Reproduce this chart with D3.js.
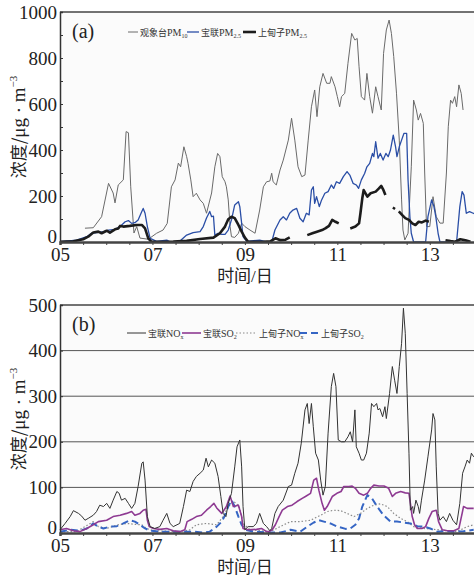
<!DOCTYPE html>
<html>
<head>
<meta charset="utf-8">
<script src="https://cdn.jsdelivr.net/npm/d3@7"></script>
<style>
  body { margin: 0; background: #fff; }
  svg text { font-family: "Liberation Serif", "Noto Sans CJK SC", serif; }
</style>
</head>
<body>
<div id="chart"></div>
<script>
// days (5 = 05日) and concentrations; null = gap
const xTickDays = [5, 7, 9, 11, 13];
const xTickLabels = ["05", "07", "09", "11", "13"];
const yTicksA = [0, 200, 400, 600, 800, 1000];
const yTicksB = [0, 100, 200, 300, 400, 500];

// (a) 观象台PM10
const pm10Gxt = [[5.54,60],[5.72,62],[5.90,110],[6.05,255],[6.15,213],[6.19,170],[6.26,248],[6.37,270],[6.43,480],[6.48,475],[6.53,240],[6.60,39],[6.66,67],[6.73,17],[6.91,12],[7.09,38],[7.23,52],[7.32,81],[7.41,240],[7.49,270],[7.56,343],[7.61,327],[7.68,414],[7.74,371],[7.77,342],[7.83,270],[7.88,197],[7.95,212],[8.03,183],[8.10,168],[8.17,125],[8.28,213],[8.35,327],[8.41,385],[8.46,371],[8.51,284],[8.57,262],[8.60,240],[8.64,183],[8.68,67],[8.71,23],[8.78,20],[8.86,38],[8.93,82],[9.00,67],[9.11,52],[9.22,38],[9.32,139],[9.40,240],[9.47,262],[9.54,265],[9.58,299],[9.61,262],[9.68,248],[9.76,313],[9.83,356],[9.94,443],[10.01,538],[10.08,443],[10.15,327],[10.23,284],[10.30,291],[10.37,443],[10.44,588],[10.51,661],[10.56,545],[10.62,675],[10.69,733],[10.77,690],[10.84,690],[10.87,719],[10.95,675],[11.00,632],[11.05,588],[11.09,632],[11.16,646],[11.23,777],[11.31,907],[11.38,878],[11.43,885],[11.47,762],[11.52,632],[11.59,617],[11.64,733],[11.70,632],[11.76,560],[11.83,675],[11.88,632],[11.95,574],[12.00,820],[12.06,922],[12.12,965],[12.17,907],[12.22,806],[12.28,647],[12.34,443],[12.39,183],[12.42,52],[12.46,9],[12.53,38],[12.60,327],[12.65,617],[12.71,574],[12.75,530],[12.80,559],[12.86,516],[12.89,300],[12.93,67],[13.00,67],[13.07,197],[13.14,110],[13.22,82],[13.29,82],[13.36,300],[13.40,501],[13.45,617],[13.49,603],[13.54,632],[13.58,588],[13.63,683],[13.68,646],[13.72,574]];

// (a) 宝联PM2.5
const pm25Bl = [[5.00,1],[5.36,8],[5.58,23],[5.68,38],[5.79,41],[5.94,45],[6.05,52],[6.19,55],[6.30,67],[6.41,88],[6.48,93],[6.55,81],[6.62,84],[6.69,96],[6.77,133],[6.80,146],[6.84,125],[6.89,67],[6.95,16],[7.09,3],[7.31,8],[7.38,1],[7.59,3],[7.74,30],[7.88,41],[8.03,45],[8.10,67],[8.17,104],[8.24,133],[8.28,110],[8.32,112],[8.35,30],[8.42,38],[8.50,33],[8.57,33],[8.64,52],[8.71,96],[8.78,161],[8.86,175],[8.89,154],[8.93,81],[8.96,23],[9.04,3],[9.32,8],[9.47,0],[9.58,0],[9.65,52],[9.76,96],[9.83,110],[9.90,96],[9.97,125],[10.04,139],[10.12,146],[10.19,103],[10.26,88],[10.33,125],[10.39,118],[10.44,226],[10.48,240],[10.51,168],[10.55,197],[10.61,154],[10.66,183],[10.73,212],[10.80,219],[10.87,248],[10.92,233],[10.98,262],[11.05,255],[11.13,284],[11.21,306],[11.27,291],[11.34,255],[11.41,248],[11.46,233],[11.52,270],[11.59,298],[11.64,327],[11.70,342],[11.76,385],[11.79,371],[11.83,436],[11.88,364],[11.93,385],[11.99,356],[12.05,385],[12.10,371],[12.15,400],[12.21,465],[12.26,414],[12.29,371],[12.34,414],[12.39,443],[12.44,472],[12.50,472],[12.53,270],[12.57,110],[12.60,38],[12.65,0],[12.91,0],[12.96,110],[13.04,183],[13.09,154],[13.13,110],[13.18,38],[13.22,0],[13.58,0],[13.65,154],[13.70,219],[13.74,204],[13.79,125],[13.86,132],[13.94,125],[14.00,120]];

// (a) 上甸子PM2.5
const pm25Sdz = [[5.00,1],[5.29,3],[5.50,12],[5.61,23],[5.72,41],[5.83,45],[5.90,38],[6.01,49],[6.08,41],[6.19,55],[6.26,59],[6.30,70],[6.37,67],[6.51,70],[6.66,74],[6.77,74],[6.84,59],[6.91,16],[6.98,1],[7.45,2],[7.74,5],[8.03,13],[8.32,19],[8.46,38],[8.57,67],[8.64,99],[8.71,110],[8.78,104],[8.86,74],[8.93,45],[9.00,19],[9.07,1],[9.40,1],[9.55,3],[9.66,16],[9.77,8],[9.88,10],[9.97,20],null,[10.35,30],[10.46,38],[10.56,45],[10.67,52],[10.74,59],[10.82,70],[10.89,96],[10.96,88],[11.03,81],null,[11.28,59],[11.39,67],[11.47,81],[11.50,125],[11.54,190],[11.57,226],[11.65,197],[11.72,212],[11.83,219],[11.90,233],[11.95,244],[11.99,229],[12.04,204],null,[12.21,142],[12.24,151],null,[12.33,133],[12.40,118],[12.47,104],[12.55,96],[12.62,81],[12.69,74],[12.76,88],[12.83,85],[12.91,93],[12.98,88],null,[13.34,8],[13.45,4],[13.55,1],[13.66,12],[13.77,8],[13.88,1]];

// (b) 宝联NOx
const noxBl = [[5.00,7],[5.11,21],[5.22,36],[5.29,49],[5.40,43],[5.47,37],[5.54,28],[5.61,32],[5.72,39],[5.79,47],[5.86,61],[5.94,58],[6.01,65],[6.08,54],[6.15,72],[6.23,91],[6.28,87],[6.33,72],[6.41,76],[6.48,65],[6.55,54],[6.62,65],[6.69,102],[6.77,153],[6.80,156],[6.84,116],[6.89,36],[6.95,14],[7.05,10],[7.16,14],[7.23,28],[7.31,43],[7.38,21],[7.45,14],[7.59,21],[7.67,58],[7.74,94],[7.81,91],[7.88,113],[7.95,124],[8.03,131],[8.10,138],[8.16,164],[8.21,145],[8.28,160],[8.35,153],[8.42,124],[8.48,80],[8.53,43],[8.59,36],[8.64,65],[8.71,87],[8.78,145],[8.83,189],[8.89,204],[8.93,145],[8.96,58],[9.00,7],[9.07,14],[9.18,14],[9.25,21],[9.32,43],[9.40,21],[9.47,14],[9.54,5],[9.58,10],[9.65,43],[9.72,58],[9.83,72],[9.94,102],[10.01,105],[10.08,131],[10.15,153],[10.22,197],[10.30,270],[10.35,284],[10.39,240],[10.44,284],[10.48,233],[10.53,175],[10.59,160],[10.64,116],[10.69,83],[10.74,102],[10.80,219],[10.87,321],[10.92,350],[10.97,321],[11.02,204],[11.09,200],[11.16,200],[11.23,211],[11.28,222],[11.33,200],[11.38,270],[11.41,189],[11.47,175],[11.52,160],[11.57,160],[11.63,175],[11.69,219],[11.74,284],[11.79,277],[11.85,284],[11.88,270],[11.92,273],[11.98,255],[12.03,277],[12.06,251],[12.13,306],[12.19,365],[12.24,335],[12.29,306],[12.34,365],[12.39,416],[12.43,493],[12.47,438],[12.51,306],[12.55,175],[12.58,50],[12.63,58],[12.65,43],[12.70,72],[12.75,58],[12.78,43],[12.82,72],[12.89,116],[12.96,167],[13.04,226],[13.07,262],[13.11,248],[13.14,145],[13.18,43],[13.22,28],[13.29,36],[13.36,25],[13.43,43],[13.50,28],[13.58,18],[13.65,65],[13.71,131],[13.76,145],[13.81,160],[13.86,153],[13.90,175],[13.95,167]];

// (b) 宝联SO2
const so2Bl = [[5.00,7],[5.14,10],[5.29,5],[5.43,3],[5.58,10],[5.72,18],[5.83,25],[6.01,28],[6.15,36],[6.30,39],[6.44,43],[6.55,47],[6.62,39],[6.73,43],[6.80,50],[6.86,52],[6.89,28],[6.93,14],[7.02,10],[7.16,8],[7.31,10],[7.45,5],[7.59,3],[7.70,7],[7.75,25],[7.85,30],[7.95,36],[8.06,39],[8.17,50],[8.26,58],[8.33,65],[8.39,55],[8.50,43],[8.60,58],[8.68,81],[8.75,58],[8.86,61],[8.93,36],[8.96,10],[9.07,7],[9.25,8],[9.36,10],[9.47,3],[9.52,3],[9.59,7],[9.66,18],[9.74,36],[9.81,50],[9.92,58],[10.02,61],[10.13,69],[10.24,76],[10.31,80],[10.42,87],[10.49,116],[10.55,120],[10.60,94],[10.67,65],[10.72,50],[10.78,58],[10.89,80],[10.99,87],[11.08,91],[11.14,102],[11.25,102],[11.32,103],[11.39,98],[11.47,87],[11.57,83],[11.65,87],[11.72,98],[11.79,105],[11.90,103],[12.01,103],[12.11,98],[12.19,80],[12.26,87],[12.37,91],[12.47,88],[12.55,87],[12.58,65],[12.62,36],[12.67,18],[12.73,10],[12.83,10],[12.91,14],[12.98,32],[13.05,47],[13.14,50],[13.19,25],[13.27,7],[13.38,5],[13.52,5],[13.63,10],[13.70,43],[13.73,58],[13.81,54],[13.95,54]];

// (b) 上甸子NOx
const noxSdz = [[5.00,3],[5.36,3],[5.72,25],[5.83,14],[6.01,10],[6.26,18],[6.44,21],[6.62,19],[6.77,18],[6.87,10],[7.02,5],[7.59,3],[7.81,7],[7.95,18],[8.17,21],[8.39,18],[8.53,36],[8.64,58],[8.75,69],[8.82,65],[8.89,54],[8.96,21],[9.11,7],[9.54,3],[9.63,7],[9.84,18],[9.99,25],[10.20,25],[10.42,28],[10.64,39],[10.78,47],[10.92,50],[11.07,49],[11.21,43],[11.36,36],[11.50,43],[11.65,54],[11.79,61],[11.93,64],[12.08,58],[12.22,43],[12.37,32],[12.51,25],[12.65,14],[12.87,10],[13.09,8],[13.38,5],[13.59,3],[13.81,14],[13.95,18]];

// (b) 上甸子SO2
const so2Sdz = [[5.00,3],[5.22,7],[5.43,5],[5.58,10],[5.72,21],[5.83,14],[5.94,10],[6.08,14],[6.23,15],[6.37,21],[6.51,28],[6.62,25],[6.73,18],[6.84,10],[6.95,5],[7.16,3],[7.59,3],[7.88,3],[8.10,1],[8.24,3],[8.39,14],[8.50,25],[8.57,39],[8.64,58],[8.71,72],[8.78,58],[8.86,36],[8.93,18],[9.00,7],[9.18,3],[9.54,1],[9.77,1],[9.99,7],[10.20,3],[10.35,14],[10.49,23],[10.60,28],[10.71,25],[10.85,21],[11.00,14],[11.18,9],[11.28,10],[11.39,18],[11.47,32],[11.54,58],[11.65,83],[11.75,76],[11.86,58],[12.00,39],[12.15,25],[12.29,25],[12.44,23],[12.58,21],[12.73,15],[12.87,14],[13.01,10],[13.16,3],[13.30,4],[13.52,3],[13.73,4],[13.95,7]];

const W = 474, H = 579;
const svg = d3.select("#chart").append("svg").attr("width", W).attr("height", H);

const x = d3.scaleLinear().domain([5, 14]).range([60, 476]);
const halfDays = d3.range(5, 14.01, 0.5);

function panel(o) {
  const y = d3.scaleLinear().domain([0, o.ymax]).range([o.bottom, o.top]);
  const g = svg.append("g");

  g.append("rect").attr("x", 60).attr("y", o.top).attr("width", W - 60).attr("height", o.bottom - o.top)
    .attr("fill", "#fbfbfb");

  // gridlines (panel b only)
  if (o.grid) {
    g.selectAll(".grid").data(o.yTicks.slice(1, -1)).join("line")
      .attr("x1", 60).attr("x2", W).attr("y1", d => y(d)).attr("y2", d => y(d))
      .attr("stroke", "#555").attr("stroke-width", 1);
  }
  // top frame
  g.append("line").attr("x1", 60).attr("x2", W).attr("y1", o.top).attr("y2", o.top)
    .attr("stroke", "#444").attr("stroke-width", 1.5);

  // series
  const line = d3.line().defined(d => d !== null).x(d => x(d[0])).y(d => y(d[1]));
  o.series.forEach(s => {
    g.append("path").datum(s.data).attr("d", line).attr("fill", "none")
      .attr("stroke", s.color).attr("stroke-width", s.width)
      .attr("stroke-dasharray", s.dash || null).attr("stroke-linejoin", "round");
  });

  // y axis
  const ya = g.append("g").attr("transform", "translate(60,0)")
    .call(d3.axisLeft(y).tickValues(d3.range(0, o.ymax + 1, o.minor)).tickSize(-3).tickFormat(""));
  ya.select(".domain").attr("stroke", "#333").attr("stroke-width", 1.5);
  ya.selectAll(".tick line").attr("stroke", "#333");
  g.selectAll(".ylab").data(o.yTicks).join("text")
    .attr("x", 57).attr("y", d => y(d) + (d === 0 ? -6 : 0))
    .attr("dy", "0.35em").attr("text-anchor", "end")
    .attr("font-size", 19).attr("fill", "#222").text(d => d);

  // x axis
  const xa = g.append("g").attr("transform", `translate(0,${o.bottom})`)
    .call(d3.axisBottom(x).tickValues(halfDays).tickSize(3).tickPadding(3)
      .tickFormat(d => { const i = xTickDays.indexOf(d); return i >= 0 ? xTickLabels[i] : ""; }));
  xa.select(".domain").attr("stroke", "#444").attr("stroke-width", 2.5);
  xa.selectAll(".tick line").attr("stroke", "#444");
  xa.selectAll("text").attr("font-size", 19).attr("fill", "#222")
    .attr("font-family", "Liberation Serif");

  g.append("text").attr("x", 245).attr("y", o.bottom + 40).attr("text-anchor", "middle")
    .attr("font-family", "Noto Sans CJK SC").attr("font-size", 17).attr("fill", "#222")
    .text("时间/日");

  // y title
  const cy = (o.top + o.bottom) / 2;
  const yt = g.append("text").attr("transform", `translate(25,${cy}) rotate(-90)`)
    .attr("text-anchor", "middle").attr("font-size", 17).attr("fill", "#222");
  yt.append("tspan").attr("font-family", "Noto Sans CJK SC").text("浓度/");
  yt.append("tspan").attr("font-family", "Liberation Serif").attr("font-size", 19).text("μg · m");
  yt.append("tspan").attr("font-family", "Liberation Serif").attr("font-size", 11).attr("dy", -8).text("−3");

  // panel tag
  g.append("text").attr("x", 72).attr("y", o.top + 26).attr("font-size", 20).attr("fill", "#222").text(o.tag);

  // legend
  o.legend.forEach(l => {
    g.append("line").attr("x1", l.x0).attr("x2", l.x1).attr("y1", o.legY).attr("y2", o.legY)
      .attr("stroke", l.color).attr("stroke-width", l.width).attr("stroke-dasharray", l.dash || null);
    const t = g.append("text").attr("x", l.x1 + 2).attr("y", o.legY + 3.5)
      .attr("font-size", 9).attr("fill", "#333");
    t.append("tspan").attr("font-family", "Noto Sans CJK SC").text(l.name);
    t.append("tspan").attr("font-family", "Liberation Serif").attr("font-size", 10).text(l.chem);
    t.append("tspan").attr("font-family", "Liberation Serif").attr("font-size", 6).attr("dy", 2).text(l.sub);
  });
}

panel({
  top: 12, bottom: 242, ymax: 1000, minor: 100, yTicks: yTicksA, grid: false, tag: "(a)", legY: 32,
  series: [
    { data: pm10Gxt, color: "#6a6a6a", width: 1 },
    { data: pm25Bl, color: "#2a4ea6", width: 1.3 },
    { data: pm25Sdz, color: "#1c1c1c", width: 2.6 }
  ],
  legend: [
    { x0: 128, x1: 138, color: "#6a6a6a", width: 1, name: "观象台", chem: "PM", sub: "10" },
    { x0: 187, x1: 199, color: "#2a4ea6", width: 1.3, name: "宝联", chem: "PM", sub: "2.5" },
    { x0: 243, x1: 256, color: "#1c1c1c", width: 2.6, name: "上甸子", chem: "PM", sub: "2.5" }
  ]
});

panel({
  top: 305, bottom: 533, ymax: 500, minor: 100, yTicks: yTicksB, grid: true, tag: "(b)", legY: 333,
  series: [
    { data: noxSdz, color: "#8a8a8a", width: 1.2, dash: "1.5,2" },
    { data: so2Sdz, color: "#3565c4", width: 2, dash: "7,4" },
    { data: so2Bl, color: "#8e3a92", width: 1.6 },
    { data: noxBl, color: "#333333", width: 1 }
  ],
  legend: [
    { x0: 127, x1: 146, color: "#333333", width: 1, name: "宝联", chem: "NO", sub: "x" },
    { x0: 182, x1: 201, color: "#8e3a92", width: 1.6, name: "宝联", chem: "SO", sub: "2" },
    { x0: 236, x1: 257, color: "#8a8a8a", width: 1.2, dash: "1.5,2", name: "上甸子", chem: "NO", sub: "x" },
    { x0: 300, x1: 319, color: "#3565c4", width: 2, dash: "7,4", name: "上甸子", chem: "SO", sub: "2" }
  ]
});
</script>
</body>
</html>
